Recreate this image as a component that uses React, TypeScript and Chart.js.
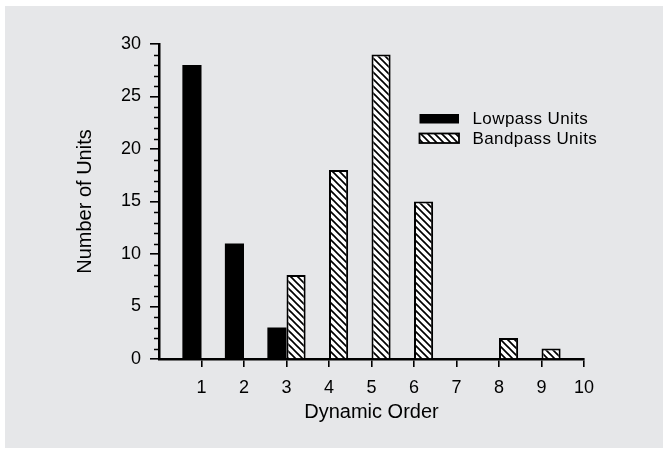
import React, { useEffect, useRef } from 'react';
import { Chart, registerables } from 'chart.js';

Chart.register(...registerables);

// ---- data ----
const dynamicOrders = [1, 2, 3, 4, 5, 6, 7, 8, 9];
const lowpassUnits = [28, 11, 3, 0, 0, 0, 0, 0, 0];
const bandpassUnits = [0, 0, 8, 18, 29, 15, 0, 2, 1];
const seriesLabels = ['Lowpass Units', 'Bandpass Units'];
const xRange = [0, 10];
const yRange = [0, 30];
const yMajorStep = 5;
const yMinorStep = 1;
const xTitle = 'Dynamic Order';
const yTitle = 'Number of Units';

const FONT = '"Liberation Sans", Arial, Helvetica, sans-serif';

function makeHatch(): CanvasPattern | string {
  const s = 7;
  const c = document.createElement('canvas');
  c.width = s;
  c.height = s;
  const g = c.getContext('2d');
  if (!g) return '#fff';
  g.fillStyle = '#ffffff';
  g.fillRect(0, 0, s, s);
  g.strokeStyle = '#000000';
  g.lineWidth = 1.7;
  for (const k of [-s, 0, s]) {
    g.beginPath();
    g.moveTo(k - 1, -1);
    g.lineTo(k + s + 1, s + 1);
    g.stroke();
  }
  return g.createPattern(c, 'repeat') || '#fff';
}

const minorTicksPlugin = {
  id: 'minorTicks',
  afterDraw(chart: any) {
    const y = chart.scales.y;
    const ctx = chart.ctx;
    ctx.save();
    ctx.strokeStyle = '#000';
    ctx.lineWidth = 1.5;
    for (let v = y.min; v <= y.max; v += yMinorStep) {
      if (v % yMajorStep === 0) continue;
      const py = Math.round(y.getPixelForValue(v)) + 0.5;
      ctx.beginPath();
      ctx.moveTo(y.right - 5, py);
      ctx.lineTo(y.right, py);
      ctx.stroke();
    }
    ctx.restore();
  },
};

const legendPlugin = {
  id: 'insideLegend',
  afterDraw(chart: any) {
    const ctx = chart.ctx;
    const ds = chart.data.datasets;
    const boxX = 419.5;
    const boxW = 39.5;
    const boxH = 9.5;
    const rows = [114, 133.5];
    ctx.save();
    ds.forEach((d: any, i: number) => {
      const by = rows[i];
      ctx.fillStyle = d.backgroundColor;
      ctx.fillRect(boxX, by, boxW, boxH);
      if (d.borderWidth) {
        ctx.strokeStyle = '#000';
        ctx.lineWidth = 1.8;
        ctx.strokeRect(boxX, by, boxW, boxH);
      }
      ctx.fillStyle = '#000';
      ctx.font = `17px ${FONT}`;
      (ctx as any).letterSpacing = '0.4px';
      ctx.textAlign = 'left';
      ctx.textBaseline = 'alphabetic';
      ctx.fillText(d.label, 472.5, by + 10);
    });
    ctx.restore();
  },
};

export default function App() {
  const ref = useRef<HTMLCanvasElement | null>(null);

  useEffect(() => {
    if (!ref.current) return;
    const hatch = makeHatch();
    const chart = new Chart(ref.current, {
      type: 'bar',
      data: {
        datasets: [
          {
            label: seriesLabels[0],
            data: dynamicOrders.map((o, i) => ({ x: o, y: lowpassUnits[i] })) as any,
            backgroundColor: '#000000',
            borderWidth: 0,
            grouped: true,
          },
          {
            label: seriesLabels[1],
            data: dynamicOrders.map((o, i) => ({ x: o, y: bandpassUnits[i] })) as any,
            backgroundColor: hatch as any,
            borderColor: '#000000',
            borderWidth: 2,
            grouped: true,
          },
        ],
      },
      plugins: [minorTicksPlugin, legendPlugin],
      options: {
        responsive: false,
        animation: false,
        devicePixelRatio: 1,
        layout: { padding: { left: 0, right: 81, top: 44, bottom: 0 } },
        datasets: {
          bar: { categoryPercentage: 0.9, barPercentage: 1 },
        },
        plugins: {
          legend: { display: false },
          tooltip: { enabled: false },
        },
        scales: {
          x: {
            type: 'linear',
            min: xRange[0],
            max: xRange[1],
            offset: false,
            afterFit: (s: any) => {
              s.height = 91;
            },
            border: { display: true, color: '#000', width: 2.5 },
            grid: {
              offset: false,
              drawOnChartArea: false,
              drawTicks: true,
              tickLength: 8,
              lineWidth: 1.6,
              color: (c: any) => (c.tick && c.tick.value === xRange[0] ? 'rgba(0,0,0,0)' : '#000'),
            },
            ticks: {
              stepSize: 1,
              padding: 10,
              color: '#000',
              font: { family: FONT, size: 18 },
              callback: (v: any) => (v === xRange[0] ? '' : String(v)),
              maxRotation: 0,
            },
            title: {
              display: true,
              text: xTitle,
              color: '#000',
              font: { family: FONT, size: 20 },
              padding: { top: 0, bottom: 26 },
            },
          },
          y: {
            type: 'linear',
            min: yRange[0],
            max: yRange[1],
            afterFit: (s: any) => {
              s.width = 159;
            },
            border: { display: true, color: '#000', width: 2.5 },
            grid: {
              drawOnChartArea: false,
              drawTicks: true,
              tickLength: 9,
              lineWidth: 1.6,
              color: '#000',
            },
            ticks: {
              stepSize: yMajorStep,
              padding: 9,
              color: '#000',
              font: { family: FONT, size: 18 },
            },
            title: {
              display: true,
              text: yTitle,
              color: '#000',
              font: { family: FONT, size: 20 },
              padding: { top: 73, bottom: 0 },
            },
          },
        },
      } as any,
    });
    return () => chart.destroy();
  }, []);

  return (
    <div style={{ position: 'absolute', left: 0, top: 0, width: 665, height: 450, background: '#ffffff' }}>
      <div style={{ position: 'absolute', left: 5, top: 6, width: 658, height: 442, background: '#e6e7e9' }} />
      <canvas ref={ref} width={665} height={450} style={{ position: 'absolute', left: 0, top: 0, width: 665, height: 450 }} />
    </div>
  );
}
